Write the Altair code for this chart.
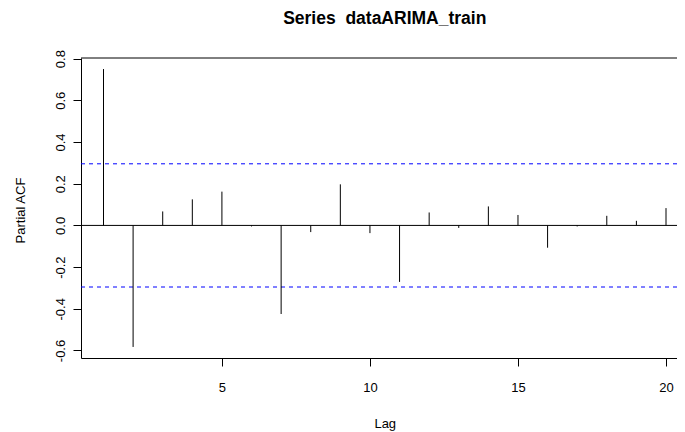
import altair as alt
import pandas as pd

# PACF values
lags = list(range(1, 21))
pacf = [0.750, -0.583, 0.067, 0.125, 0.162, -0.005, -0.425, -0.032, 0.197, -0.037,
        -0.271, 0.062, -0.012, 0.091, 0.050, -0.107, -0.005, 0.046, 0.022, 0.083]
clim = 0.2955
x_ticks = [5, 10, 15, 20]
y_ticks = [-0.6, -0.4, -0.2, 0.0, 0.2, 0.4, 0.6, 0.8]
title_text = ["Series\u00a0\u00a0dataARIMA_train"]

FONT = "Liberation Sans"
W_RANGE = 607.5   # full plot width (runs past the right edge of the picture, as in the reference)
W = 596           # visible part
x_dom = [0.24, 20.76]
y_dom = [-0.636, 0.803]

df = pd.DataFrame({"lag": lags, "pacf": pacf, "zero": [0.0] * len(lags)})
ci_df = pd.DataFrame({"ci": [clim, -clim]})
title_df = pd.DataFrame({"t": title_text})

xs = alt.Scale(domain=x_dom, range=[0, W_RANGE], nice=False, zero=False)
ys = alt.Scale(domain=y_dom, nice=False, zero=False)

x_axis = alt.Axis(values=x_ticks, title="Lag", grid=False, tickSize=8, labelPadding=15,
                  labelFont=FONT, labelFontSize=13, labelColor="black",
                  titleFont=FONT, titleFontSize=13, titleFontWeight="normal", titleColor="black",
                  titleBaseline="alphabetic", titleX=W_RANGE / 2, titleY=69,
                  domainColor="black", tickColor="black", labelFlush=False)
y_axis = alt.Axis(values=y_ticks, title="Partial ACF", grid=False, tickSize=8, labelPadding=9,
                  labelAngle=270, labelAlign="center", labelBaseline="alphabetic",
                  labelExpr="replace(format(datum.value, '.1f'), '\u2212', '-')",
                  labelFont=FONT, labelFontSize=13, labelColor="black",
                  titleFont=FONT, titleFontSize=13, titleFontWeight="normal", titleColor="black",
                  titleAngle=270, titleBaseline="alphabetic", titleX=-57, titleY=152,
                  domainColor="black", tickColor="black", labelFlush=False)

bars = alt.Chart(df).mark_rule(color="black", strokeWidth=1).encode(
    x=alt.X("lag:Q", scale=xs, axis=x_axis),
    y=alt.Y("pacf:Q", scale=ys, axis=y_axis),
    y2="zero:Q",
)

zero_line = alt.Chart(df.head(1)).mark_rule(color="black", strokeWidth=1).encode(
    y=alt.Y("zero:Q", scale=ys), x=alt.value(0), x2=alt.value(W_RANGE)
)

ci_lines = alt.Chart(ci_df).mark_rule(color="#0000FF", strokeWidth=1, strokeDash=[4, 4]).encode(
    y=alt.Y("ci:Q", scale=ys), x=alt.value(0), x2=alt.value(W_RANGE)
)

top_border = alt.Chart(df.head(1)).mark_rule(color="black", strokeWidth=1).encode(
    y=alt.value(0), x=alt.value(0), x2=alt.value(W_RANGE)
)

title_mark = alt.Chart(title_df).mark_text(
    font=FONT, fontSize=17.5, fontWeight="bold", color="black",
    align="center", baseline="alphabetic"
).encode(text="t:N", x=alt.value(W_RANGE / 2), y=alt.value(-34))

chart = alt.layer(ci_lines, zero_line, top_border, bars, title_mark).properties(
    width=W,
    height=300,
    background="white",
    autosize=alt.AutoSizeParams(type="none"),
    padding={"left": 73, "top": 50, "right": 0, "bottom": 74},
).configure_view(strokeWidth=0)

chart.save("out.html", embed_options={"renderer": "svg", "actions": False})
